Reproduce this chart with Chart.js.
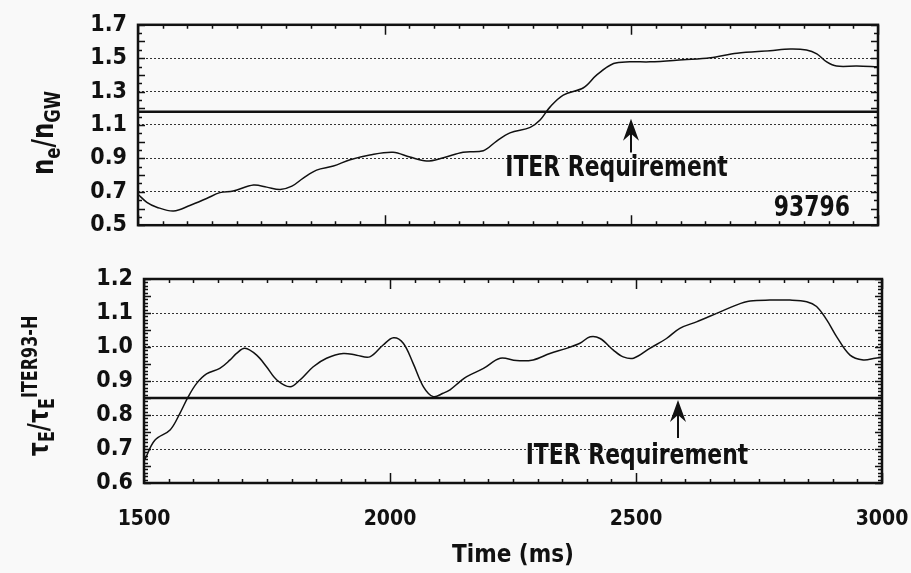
<!DOCTYPE html>
<html>
<head>
<meta charset="utf-8">
<script src="https://cdn.jsdelivr.net/npm/chart.js@4.4.0/dist/chart.umd.min.js"></script>
<style>
  body { margin: 0; background: #f9f9f9; }
  #wrap { position: relative; width: 911px; height: 573px; overflow: hidden; }
  canvas { position: absolute; left: 0; }
  #topChart { top: 0; }
  #bottomChart { top: 250px; }
  .ytitle {
    position: absolute;
    transform: translate(-50%, -50%) rotate(-90deg) scaleX(0.85);
    white-space: nowrap;
    font-family: 'Liberation Sans Narrow', 'DejaVu Sans Condensed', sans-serif;
    font-weight: bold;
    color: #111;
    line-height: 1;
  }
  .ytitle sub, .ytitle sup { font-size: 72%; line-height: 0; }
  #yTitleTop { left: 43px; top: 133px; font-size: 30px; }
  #yTitleBottom { left: 38px; top: 386px; font-size: 29px; }
</style>
</head>
<body>
<div id="wrap">
  <canvas id="topChart" width="911" height="250"></canvas>
  <canvas id="bottomChart" width="911" height="323"></canvas>
  <div class="ytitle" id="yTitleTop">n<sub>e</sub>/n<sub>GW</sub></div>
  <div class="ytitle" id="yTitleBottom">&tau;<sub>E</sub>/&tau;<sub>E</sub><sup>ITER93-H</sup></div>
</div>
<script>
// --- Data (shot 93796) ---
const topTimes = [1500, 1518, 1538, 1572, 1605, 1639, 1666, 1693, 1734, 1761,
  1788, 1812, 1835, 1862, 1896, 1930, 1970, 2017, 2051, 2085,
  2119, 2159, 2200, 2227, 2254, 2295, 2315, 2335, 2362, 2403,
  2430, 2464, 2497, 2538, 2605, 2660, 2714, 2781, 2822, 2855,
  2876, 2896, 2916, 2957, 3000];
const densityRatio = [0.685, 0.637, 0.608, 0.585, 0.618, 0.66, 0.695, 0.705, 0.74, 0.728,
  0.714, 0.734, 0.782, 0.83, 0.854, 0.892, 0.921, 0.937, 0.908, 0.884,
  0.904, 0.937, 0.946, 1.004, 1.053, 1.086, 1.13, 1.207, 1.279, 1.323,
  1.40, 1.468, 1.478, 1.478, 1.491, 1.503, 1.53, 1.545, 1.555, 1.549,
  1.526, 1.478, 1.453, 1.453, 1.449];

const bottomTimes = [1502, 1522, 1553, 1573, 1590, 1607, 1627, 1654, 1675, 1688,
  1705, 1729, 1749, 1770, 1797, 1817, 1844, 1871, 1905, 1932,
  1959, 1986, 2007, 2027, 2047, 2068, 2088, 2108, 2122, 2142,
  2156, 2190, 2224, 2257, 2291, 2325, 2359, 2386, 2407, 2427,
  2454, 2474, 2495, 2528, 2562, 2589, 2623, 2664, 2705, 2732,
  2772, 2813, 2847, 2867, 2888, 2908, 2935, 2962, 2986, 3000];
const confinementRatio = [0.67, 0.726, 0.756, 0.805, 0.854, 0.893, 0.921, 0.937, 0.962, 0.981,
  0.996, 0.976, 0.942, 0.903, 0.883, 0.903, 0.942, 0.967, 0.981, 0.976,
  0.971, 1.006, 1.027, 1.011, 0.952, 0.883, 0.854, 0.864, 0.874, 0.898,
  0.913, 0.937, 0.967, 0.96, 0.962, 0.981, 0.996, 1.011, 1.03, 1.025,
  0.991, 0.971, 0.967, 0.996, 1.025, 1.055, 1.074, 1.099, 1.124, 1.135,
  1.138, 1.138, 1.133, 1.119, 1.079, 1.03, 0.976, 0.962, 0.967, 0.97];

const timeRange = [1500, 3000];
const topRange = [0.5, 1.7];
const bottomRange = [0.6, 1.2];
const densityRequirement = 1.18;
const confinementRequirement = 0.85;
const shotNumber = '93796';

const FONT = "'Liberation Sans Narrow', 'DejaVu Sans Condensed', sans-serif";
const INK = '#111';

const toPoints = (xs, ys) => xs.map((x, i) => ({ x, y: ys[i] }));
const flatLine = (v) => [{ x: timeRange[0], y: v }, { x: timeRange[1], y: v }];

// frame with inward minor ticks on all four sides
const panelFrame = {
  id: 'panelFrame',
  afterDatasetsDraw(chart, args, opts) {
    const { ctx, chartArea: a, scales: { x, y } } = chart;
    ctx.save();
    ctx.strokeStyle = INK;
    ctx.lineWidth = 1.5;
    ctx.beginPath();
    const nx = Math.round((x.max - x.min) / opts.xStep);
    for (let i = 0; i <= nx; i++) {
      const px = Math.round(x.getPixelForValue(x.min + i * opts.xStep)) + 0.5;
      const len = i % opts.xMajorEvery === 0 ? 10 : 4;
      ctx.moveTo(px, a.top); ctx.lineTo(px, a.top + len);
      ctx.moveTo(px, a.bottom); ctx.lineTo(px, a.bottom - len);
    }
    const ny = Math.round((y.max - y.min) / opts.yStep);
    for (let i = 0; i <= ny; i++) {
      const py = Math.round(y.getPixelForValue(y.min + i * opts.yStep)) + 0.5;
      const len = i % opts.yMajorEvery === 0 ? 7 : 4;
      ctx.moveTo(a.left, py); ctx.lineTo(a.left + len, py);
      ctx.moveTo(a.right, py); ctx.lineTo(a.right - len, py);
    }
    ctx.stroke();
    ctx.lineWidth = 2.5;
    ctx.strokeRect(a.left, a.top, a.right - a.left, a.bottom - a.top);
    ctx.restore();
  }
};

// condensed text: squeeze horizontally around the anchor point
function narrowText(ctx, text, px, py, align, size) {
  ctx.save();
  ctx.translate(px, py);
  ctx.scale(0.84, 1);
  ctx.font = 'bold ' + size + 'px ' + FONT;
  ctx.textAlign = align;
  ctx.textBaseline = 'alphabetic';
  ctx.fillText(text, 0, 0);
  ctx.restore();
}

// "ITER Requirement" label with arrow pointing at the requirement line
const requirementNote = {
  id: 'requirementNote',
  afterDatasetsDraw(chart, args, opts) {
    const { ctx, scales: { x, y } } = chart;
    ctx.save();
    ctx.fillStyle = INK;
    ctx.strokeStyle = INK;
    const ax = Math.round(x.getPixelForValue(opts.arrowX));
    const tip = y.getPixelForValue(opts.arrowTip);
    const tail = y.getPixelForValue(opts.arrowTail);
    ctx.lineWidth = 2;
    ctx.beginPath();
    ctx.moveTo(ax, tail);
    ctx.lineTo(ax, tip + 12);
    ctx.stroke();
    ctx.beginPath();
    ctx.moveTo(ax, tip);
    ctx.lineTo(ax - 8, tip + 22);
    ctx.lineTo(ax, tip + 15);
    ctx.lineTo(ax + 8, tip + 22);
    ctx.closePath();
    ctx.fill();
    narrowText(ctx, 'ITER Requirement', x.getPixelForValue(opts.textX), y.getPixelForValue(opts.textY), 'center', 29);
    if (opts.shot) {
      narrowText(ctx, opts.shot, x.getPixelForValue(opts.shotX), y.getPixelForValue(opts.shotY), 'right', 29);
    }
    ctx.restore();
  }
};

const tickFont = { family: FONT, size: 23, weight: 'bold' };
const timeTickFont = { family: FONT, size: 21, weight: 'bold' };

function panelOptions(range, step, yWidth, padding, showTime) {
  return {
    responsive: false,
    animation: false,
    layout: { padding },
    plugins: { legend: { display: false }, tooltip: { enabled: false } },
    elements: { point: { radius: 0 } },
    scales: {
      x: {
        type: 'linear',
        min: timeRange[0],
        max: timeRange[1],
        grid: { display: false },
        border: { display: false },
        ticks: {
          display: showTime,
          stepSize: 500,
          padding: 16,
          maxRotation: 0,
          autoSkip: false,
          color: INK,
          font: timeTickFont,
          callback: (v) => String(v)
        },
        title: {
          display: showTime,
          text: 'Time (ms)',
          color: INK,
          font: { family: FONT, size: 24, weight: 'bold', lineHeight: 1.2 },
          padding: { top: 0, bottom: 3 }
        },
        afterFit: (s) => {
          s.height = showTime ? 90 : 0;
          s.paddingLeft = 0;
          s.paddingRight = 0;
        }
      },
      y: {
        min: range[0],
        max: range[1],
        grid: { color: '#333', lineWidth: 1, drawTicks: false },
        border: { display: false, dash: [2, 2] },
        ticks: {
          stepSize: step,
          padding: 11,
          autoSkip: false,
          color: INK,
          font: tickFont,
          callback: (v) => v.toFixed(1)
        },
        afterFit: (s) => { s.width = yWidth; }
      }
    }
  };
}

const lineStyle = { borderColor: INK, borderWidth: 1.5, tension: 0.35, fill: false };
const reqStyle = { borderColor: INK, borderWidth: 2.5, tension: 0, fill: false };

const topOpts = panelOptions(topRange, 0.2, 138, { left: 0, right: 33, top: 20, bottom: 23 }, false);
topOpts.plugins.panelFrame = { xStep: 50, xMajorEvery: 10, yStep: 0.05, yMajorEvery: 2 };
topOpts.plugins.requirementNote = {
  arrowX: 2500, arrowTip: 1.138, arrowTail: 0.935,
  textX: 2470, textY: 0.796,
  shot: shotNumber, shotX: 2943, shotY: 0.558
};

new Chart(document.getElementById('topChart'), {
  type: 'line',
  data: {
    datasets: [
      { data: toPoints(topTimes, densityRatio), ...lineStyle },
      { data: flatLine(densityRequirement), ...reqStyle }
    ]
  },
  options: topOpts,
  plugins: [panelFrame, requirementNote]
});

const bottomOpts = panelOptions(bottomRange, 0.1, 144, { left: 0, right: 29, top: 29, bottom: 0 }, true);
bottomOpts.plugins.panelFrame = { xStep: 50, xMajorEvery: 10, yStep: 0.01, yMajorEvery: 5 };
bottomOpts.plugins.requirementNote = {
  arrowX: 2585, arrowTip: 0.844, arrowTail: 0.732,
  textX: 2502, textY: 0.656
};

new Chart(document.getElementById('bottomChart'), {
  type: 'line',
  data: {
    datasets: [
      { data: toPoints(bottomTimes, confinementRatio), ...lineStyle },
      { data: flatLine(confinementRequirement), ...reqStyle }
    ]
  },
  options: bottomOpts,
  plugins: [panelFrame, requirementNote]
});
</script>
</body>
</html>
